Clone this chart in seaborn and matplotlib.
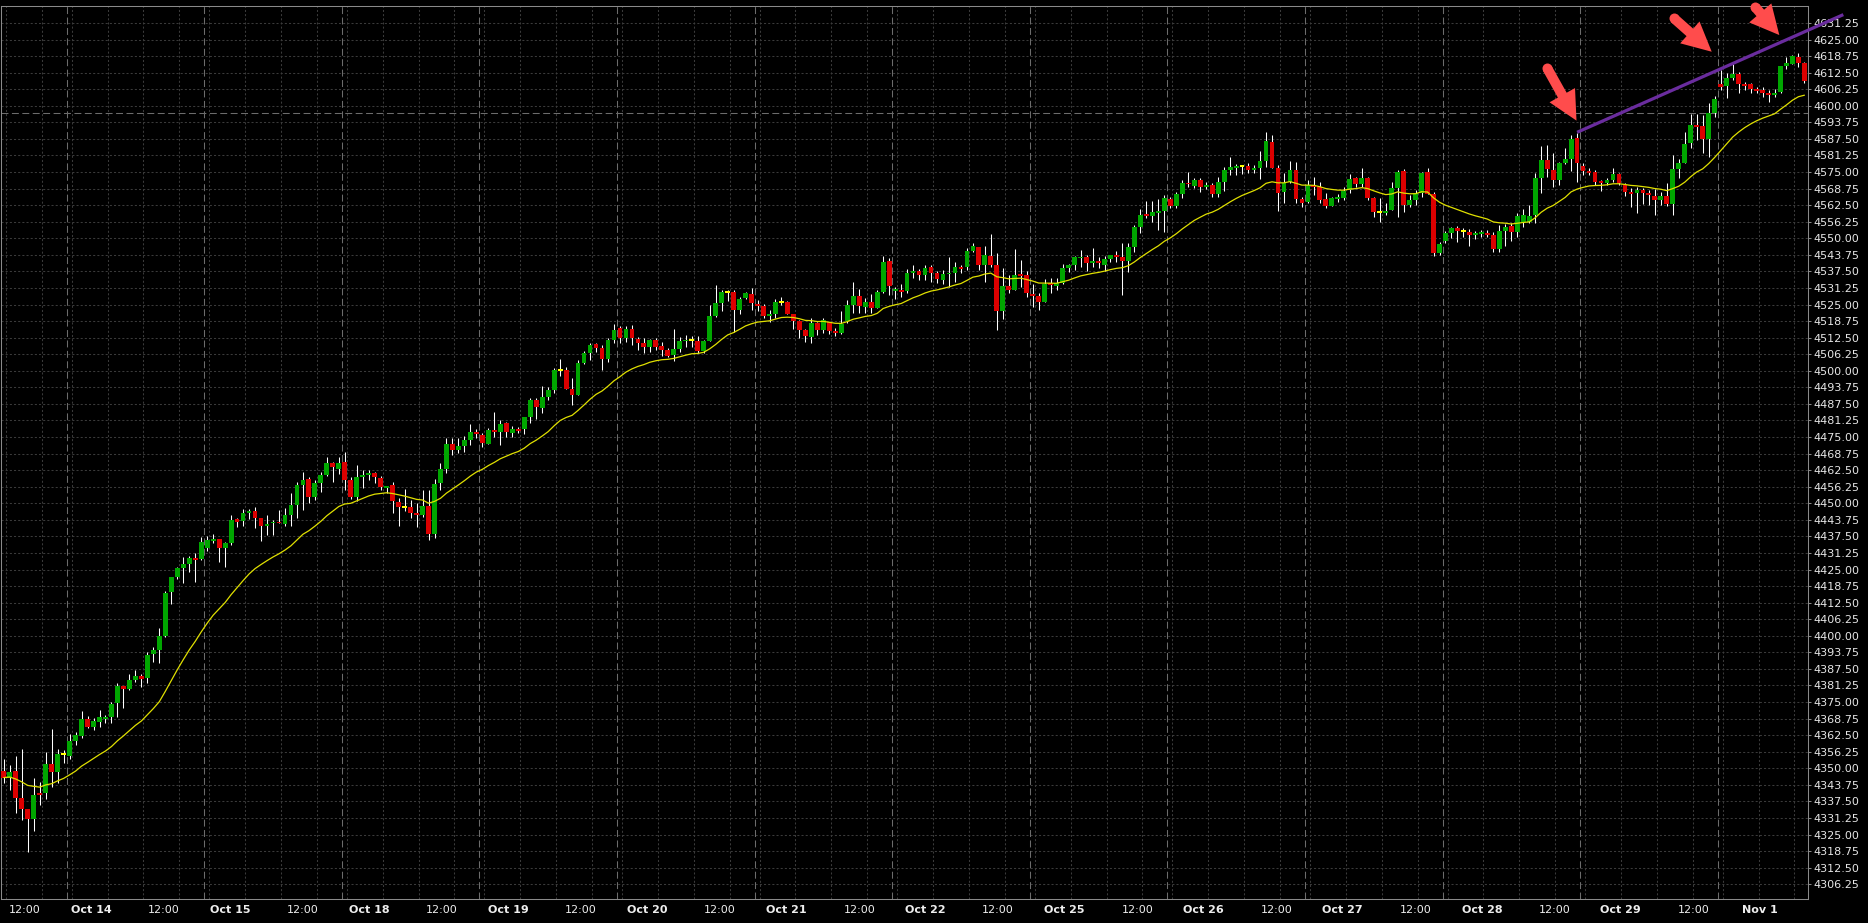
import numpy as np
import pandas as pd
import matplotlib
matplotlib.use("Agg")
import matplotlib.pyplot as plt
import seaborn as sns
from matplotlib.patches import FancyArrowPatch

# hourly candles (index 0 = first bar on the left)
opens = [
    4349.0, 4346.5, 4349.0, 4338.9, 4334.6, 4330.9, 4340.5, 4340.5, 4351.6, 4348.7,
    4355.0, 4354.8, 4360.3, 4362.3, 4368.6, 4365.7, 4367.6, 4368.7, 4369.2, 4374.8,
    4381.1, 4379.8, 4383.3, 4384.8, 4383.9, 4393.1, 4394.6, 4399.9, 4416.5, 4422.1,
    4425.6, 4427.2, 4429.4, 4429.1, 4433.2, 4435.9, 4436.4, 4433.2, 4435.0, 4443.9,
    4443.4, 4446.5, 4447.1, 4444.6, 4441.6, 4442.4, 4442.9, 4442.2, 4445.6, 4449.4,
    4456.9, 4459.3, 4452.5, 4457.8, 4460.7, 4465.3, 4463.1, 4465.6, 4458.8, 4452.5,
    4460.0, 4460.8, 4461.4, 4459.4, 4455.9, 4456.9, 4450.6, 4448.3, 4448.5, 4446.5,
    4445.6, 4449.0, 4438.5, 4457.8, 4462.9, 4472.4, 4470.1, 4471.6, 4473.9, 4476.8,
    4475.8, 4472.4, 4477.6, 4476.9, 4480.2, 4476.6, 4477.9, 4477.9, 4482.7, 4489.0,
    4485.8, 4490.2, 4492.8, 4500.0, 4500.3, 4493.1, 4490.9, 4502.8, 4506.6, 4510.1,
    4508.6, 4504.4, 4511.6, 4516.3, 4512.5, 4515.9, 4512.0, 4510.6, 4509.1, 4511.6,
    4509.4, 4507.9, 4506.0, 4508.2, 4511.1, 4511.4, 4511.2, 4507.6, 4511.2, 4520.7,
    4525.7, 4529.5, 4529.9, 4523.1, 4527.3, 4529.0, 4525.2, 4524.4, 4520.7, 4521.3,
    4525.7, 4525.8, 4521.4, 4518.8, 4515.4, 4512.9, 4517.9, 4515.4, 4518.5, 4515.2,
    4514.4, 4518.8, 4524.8, 4528.2, 4524.2, 4525.8, 4523.8, 4529.7, 4541.4, 4530.1,
    4530.5, 4530.2, 4537.0, 4537.7, 4536.2, 4539.2, 4537.0, 4534.3, 4536.4, 4537.0,
    4539.3, 4539.3, 4545.2, 4546.8, 4539.9, 4543.3, 4539.9, 4522.5, 4532.0, 4530.5,
    4536.5, 4536.2, 4529.1, 4528.2, 4526.1, 4533.0, 4532.0, 4533.0, 4538.9, 4539.9,
    4542.4, 4543.1, 4540.6, 4541.4, 4539.9, 4542.1, 4543.7, 4543.1, 4541.6, 4546.8,
    4554.4, 4559.2, 4558.4, 4559.7, 4560.4, 4564.8, 4562.3, 4566.7, 4571.0, 4569.8,
    4572.0, 4569.5, 4570.1, 4566.9, 4571.4, 4575.8, 4576.7, 4577.0, 4577.3, 4575.8,
    4576.7, 4579.2, 4586.2, 4576.4, 4567.5, 4571.4, 4575.8, 4564.8, 4563.8, 4570.1,
    4569.2, 4564.8, 4562.2, 4564.9, 4565.1, 4568.2, 4572.6, 4570.5, 4572.6, 4565.3,
    4559.7, 4559.7, 4560.7, 4568.9, 4575.4, 4562.6, 4564.5, 4567.0, 4574.9, 4566.6,
    4544.6, 4549.1, 4551.9, 4553.8, 4552.4, 4552.3, 4551.2, 4551.6, 4552.0, 4551.2,
    4545.9, 4552.6, 4554.6, 4552.5, 4556.3, 4556.3, 4558.8, 4572.9, 4579.5, 4575.8,
    4572.0, 4578.3, 4579.9, 4587.7, 4577.3, 4575.4, 4574.9, 4571.6, 4570.7, 4572.0,
    4574.3, 4570.1, 4567.6, 4567.2, 4568.2, 4567.0, 4566.1, 4564.5, 4566.1, 4563.0,
    4576.1, 4578.3, 4585.8, 4592.8, 4592.5, 4587.5, 4597.2, 4608.2, 4607.5, 4610.4,
    4612.0, 4608.2, 4608.2, 4606.3, 4606.0, 4604.7, 4604.1, 4605.3, 4615.1, 4615.8,
    4618.5, 4616.0,
]
highs = [
    4353.5, 4351.2, 4354.6, 4357.3, 4334.6, 4346.5, 4345.0, 4356.3, 4364.8, 4357.3,
    4356.9, 4362.9, 4363.7, 4371.6, 4369.7, 4369.1, 4372.0, 4370.1, 4375.1, 4382.1,
    4381.1, 4385.6, 4387.1, 4385.6, 4394.0, 4395.9, 4402.8, 4417.0, 4422.1, 4426.1,
    4429.9, 4430.1, 4431.1, 4437.4, 4437.7, 4438.4, 4436.4, 4435.5, 4445.6, 4444.3,
    4447.7, 4448.0, 4448.7, 4444.6, 4445.6, 4443.7, 4447.5, 4448.1, 4453.8, 4458.2,
    4461.9, 4460.0, 4458.8, 4461.9, 4467.6, 4465.7, 4467.6, 4469.5, 4460.0, 4464.4,
    4462.6, 4462.6, 4461.9, 4460.3, 4456.5, 4458.2, 4451.9, 4455.3, 4451.2, 4450.0,
    4455.0, 4455.0, 4459.0, 4465.1, 4474.5, 4474.5, 4474.5, 4475.5, 4479.9, 4477.9,
    4476.4, 4478.3, 4484.6, 4481.4, 4480.8, 4479.2, 4478.9, 4482.7, 4489.6, 4489.6,
    4494.1, 4493.8, 4500.9, 4504.3, 4501.5, 4497.2, 4504.1, 4507.6, 4510.6, 4510.6,
    4509.7, 4512.3, 4517.6, 4516.9, 4516.9, 4517.3, 4512.9, 4512.3, 4511.9, 4512.3,
    4511.0, 4508.5, 4515.8, 4512.9, 4513.5, 4513.1, 4513.1, 4511.6, 4524.8, 4532.4,
    4530.5, 4530.5, 4530.5, 4527.7, 4529.9, 4531.1, 4526.7, 4525.2, 4522.9, 4527.0,
    4527.7, 4526.5, 4521.4, 4519.2, 4515.6, 4519.8, 4518.5, 4519.8, 4518.5, 4516.0,
    4522.6, 4526.7, 4533.6, 4530.7, 4527.3, 4529.0, 4530.5, 4543.3, 4542.4, 4531.7,
    4532.8, 4538.3, 4539.9, 4538.3, 4539.9, 4539.9, 4537.7, 4538.0, 4543.1, 4541.2,
    4539.9, 4546.2, 4548.1, 4546.8, 4547.1, 4551.6, 4544.3, 4538.7, 4536.2, 4545.8,
    4541.8, 4537.7, 4532.8, 4529.5, 4534.5, 4534.9, 4534.9, 4540.3, 4540.3, 4543.3,
    4545.6, 4543.7, 4546.5, 4543.1, 4543.3, 4543.7, 4545.2, 4548.1, 4548.1, 4555.0,
    4560.9, 4564.2, 4564.2, 4564.7, 4566.3, 4565.5, 4567.6, 4572.0, 4575.1, 4572.6,
    4572.6, 4571.4, 4570.8, 4573.3, 4577.0, 4580.6, 4578.0, 4577.7, 4578.3, 4577.7,
    4582.9, 4590.0, 4589.0, 4577.7, 4574.8, 4579.2, 4578.9, 4565.7, 4572.0, 4573.0,
    4571.4, 4567.0, 4565.7, 4566.6, 4569.2, 4574.3, 4573.3, 4576.4, 4573.3, 4565.7,
    4565.1, 4563.2, 4571.4, 4575.8, 4576.2, 4566.3, 4568.2, 4575.2, 4576.4, 4567.6,
    4548.7, 4552.8, 4554.4, 4554.6, 4553.8, 4553.4, 4552.9, 4553.1, 4553.1, 4552.5,
    4555.0, 4555.4, 4555.6, 4559.4, 4560.9, 4562.6, 4574.8, 4584.8, 4585.2, 4582.1,
    4578.9, 4583.9, 4589.0, 4589.6, 4578.3, 4576.4, 4575.8, 4572.0, 4572.6, 4576.4,
    4574.8, 4570.7, 4568.9, 4569.5, 4569.1, 4568.2, 4568.5, 4567.6, 4570.7, 4581.4,
    4579.8, 4590.3, 4596.9, 4596.9, 4596.5, 4601.2, 4603.7, 4613.5, 4612.3, 4615.6,
    4612.9, 4609.1, 4608.7, 4607.0, 4607.0, 4606.0, 4606.3, 4615.0, 4618.6, 4619.2,
    4619.8, 4616.7,
]
lows = [
    4344.3, 4342.0, 4333.0, 4330.5, 4318.5, 4326.5, 4336.1, 4338.6, 4343.1, 4344.6,
    4352.1, 4353.5, 4358.8, 4361.5, 4365.1, 4364.5, 4365.7, 4367.2, 4367.2, 4369.5,
    4372.9, 4379.6, 4382.7, 4380.8, 4382.3, 4390.2, 4389.9, 4399.7, 4411.9, 4421.3,
    4419.8, 4424.2, 4420.4, 4428.6, 4432.1, 4434.9, 4427.9, 4426.1, 4434.3, 4441.2,
    4441.6, 4443.9, 4440.5, 4435.9, 4438.0, 4438.2, 4442.4, 4441.6, 4441.6, 4444.6,
    4447.5, 4450.0, 4451.2, 4454.4, 4460.3, 4458.2, 4461.0, 4455.0, 4451.5, 4451.0,
    4455.6, 4458.8, 4457.5, 4455.0, 4454.0, 4446.2, 4441.4, 4447.2, 4444.3, 4440.9,
    4445.0, 4436.0, 4437.0, 4455.0, 4461.3, 4468.2, 4468.8, 4469.5, 4472.0, 4474.5,
    4471.4, 4472.2, 4475.1, 4472.0, 4475.1, 4475.1, 4476.4, 4476.1, 4480.4, 4481.7,
    4484.2, 4489.0, 4491.7, 4498.0, 4493.3, 4487.1, 4490.9, 4502.6, 4504.1, 4507.2,
    4500.3, 4503.4, 4510.6, 4510.6, 4511.0, 4509.7, 4507.9, 4506.9, 4507.2, 4507.9,
    4505.6, 4505.3, 4503.8, 4507.2, 4509.1, 4509.1, 4506.9, 4506.9, 4511.2, 4520.4,
    4522.7, 4526.5, 4514.8, 4521.3, 4527.0, 4523.0, 4522.7, 4519.8, 4518.5, 4519.8,
    4524.8, 4521.4, 4515.8, 4512.5, 4511.0, 4510.4, 4513.5, 4514.4, 4513.9, 4513.3,
    4513.9, 4517.9, 4521.7, 4521.7, 4521.7, 4521.7, 4523.6, 4529.2, 4528.6, 4527.1,
    4527.7, 4529.5, 4534.9, 4534.3, 4534.3, 4533.6, 4533.0, 4532.8, 4531.8, 4533.6,
    4536.8, 4538.0, 4544.9, 4538.0, 4533.6, 4539.3, 4515.5, 4519.5, 4529.5, 4530.5,
    4531.8, 4528.0, 4524.2, 4522.9, 4526.1, 4529.5, 4530.5, 4532.8, 4537.4, 4538.0,
    4539.0, 4537.8, 4539.3, 4538.7, 4537.8, 4541.2, 4541.2, 4528.6, 4537.4, 4544.9,
    4552.1, 4557.5, 4556.3, 4553.1, 4552.5, 4561.3, 4561.3, 4565.1, 4569.5, 4568.9,
    4567.6, 4568.6, 4565.7, 4565.7, 4568.0, 4573.9, 4573.9, 4574.3, 4574.8, 4574.8,
    4572.4, 4577.0, 4576.4, 4560.4, 4563.2, 4570.8, 4563.2, 4561.9, 4563.2, 4566.3,
    4563.2, 4561.3, 4562.2, 4563.8, 4564.5, 4567.0, 4569.2, 4569.2, 4564.5, 4557.9,
    4556.3, 4558.8, 4560.7, 4557.9, 4560.1, 4561.9, 4562.6, 4565.7, 4566.7, 4543.3,
    4543.7, 4548.1, 4550.0, 4548.7, 4550.6, 4547.2, 4549.6, 4550.6, 4550.6, 4544.9,
    4544.9, 4547.1, 4549.1, 4550.4, 4554.4, 4555.9, 4555.9, 4567.0, 4573.3, 4569.5,
    4570.1, 4578.0, 4575.5, 4571.4, 4573.9, 4573.9, 4570.1, 4568.0, 4570.1, 4571.4,
    4570.1, 4566.0, 4561.7, 4559.4, 4563.0, 4562.6, 4558.8, 4562.6, 4562.2, 4558.8,
    4572.6, 4578.3, 4584.0, 4587.1, 4582.1, 4580.8, 4595.9, 4606.0, 4602.8, 4609.7,
    4604.7, 4606.0, 4604.7, 4604.7, 4603.5, 4601.3, 4603.5, 4604.7, 4613.9, 4615.8,
    4614.8, 4608.7,
]
closes = [
    4346.5, 4348.6, 4338.9, 4334.6, 4330.9, 4339.9, 4340.0, 4351.6, 4348.7, 4355.4,
    4355.0, 4360.3, 4362.4, 4368.6, 4365.7, 4367.8, 4369.2, 4369.2, 4374.2, 4381.1,
    4379.8, 4383.3, 4384.8, 4383.6, 4392.7, 4394.6, 4399.9, 4416.0, 4422.1, 4425.6,
    4427.2, 4429.4, 4428.7, 4435.3, 4436.2, 4436.4, 4433.2, 4435.0, 4443.7, 4443.1,
    4446.2, 4447.1, 4444.6, 4441.6, 4442.2, 4442.9, 4442.4, 4445.6, 4449.4, 4456.9,
    4458.8, 4452.5, 4457.5, 4460.7, 4465.3, 4463.6, 4465.3, 4458.8, 4452.5, 4459.8,
    4460.7, 4461.4, 4459.8, 4456.3, 4456.5, 4450.9, 4448.5, 4448.3, 4446.2, 4445.6,
    4449.0, 4438.5, 4457.3, 4462.9, 4472.4, 4470.1, 4471.6, 4473.9, 4476.8, 4476.1,
    4472.6, 4477.6, 4476.9, 4479.9, 4476.9, 4478.0, 4477.1, 4482.7, 4489.0, 4486.2,
    4490.2, 4492.8, 4500.3, 4500.0, 4493.3, 4490.9, 4502.8, 4506.6, 4509.7, 4508.6,
    4504.4, 4511.6, 4515.4, 4512.5, 4515.9, 4512.3, 4510.6, 4508.9, 4511.6, 4509.1,
    4507.9, 4505.7, 4508.2, 4511.2, 4511.5, 4511.4, 4507.6, 4511.2, 4520.7, 4525.7,
    4529.9, 4529.5, 4523.1, 4527.1, 4529.2, 4525.5, 4524.4, 4520.7, 4521.3, 4525.8,
    4525.7, 4521.4, 4518.8, 4515.4, 4513.1, 4517.9, 4515.4, 4519.2, 4515.2, 4514.2,
    4517.7, 4524.8, 4528.2, 4524.6, 4525.8, 4523.8, 4529.7, 4540.9, 4532.0, 4530.5,
    4529.9, 4537.0, 4537.7, 4536.2, 4538.7, 4537.0, 4534.6, 4536.5, 4537.0, 4539.1,
    4538.4, 4545.2, 4547.1, 4539.9, 4543.7, 4539.9, 4522.5, 4532.0, 4530.5, 4536.2,
    4535.9, 4529.5, 4528.4, 4526.1, 4532.8, 4532.5, 4533.0, 4538.9, 4539.9, 4543.1,
    4543.1, 4540.8, 4541.4, 4540.5, 4542.2, 4543.7, 4543.1, 4541.6, 4546.8, 4554.4,
    4558.8, 4558.4, 4560.1, 4560.4, 4565.1, 4562.3, 4566.7, 4570.7, 4570.4, 4572.0,
    4569.5, 4570.1, 4566.9, 4571.1, 4575.8, 4577.0, 4577.3, 4577.0, 4575.8, 4576.7,
    4579.2, 4586.7, 4576.7, 4567.2, 4571.0, 4575.8, 4564.8, 4563.4, 4570.1, 4569.2,
    4564.5, 4562.2, 4565.3, 4565.7, 4568.0, 4572.4, 4570.5, 4572.6, 4565.3, 4560.0,
    4559.7, 4560.3, 4568.9, 4575.2, 4562.6, 4564.5, 4567.0, 4574.5, 4566.7, 4544.3,
    4547.7, 4551.9, 4553.8, 4552.8, 4552.4, 4551.2, 4551.9, 4552.3, 4551.2, 4545.9,
    4552.8, 4554.3, 4552.5, 4558.4, 4558.7, 4558.4, 4572.6, 4579.5, 4576.0, 4572.0,
    4578.3, 4579.9, 4587.5, 4578.5, 4575.4, 4574.8, 4571.4, 4570.7, 4572.0, 4574.3,
    4570.7, 4567.6, 4566.7, 4568.2, 4567.0, 4566.3, 4564.5, 4566.1, 4563.0, 4576.1,
    4578.3, 4585.6, 4592.8, 4591.9, 4587.5, 4597.2, 4602.6, 4607.2, 4610.4, 4612.0,
    4608.2, 4607.5, 4606.3, 4605.7, 4604.7, 4604.1, 4604.7, 4615.0, 4616.0, 4618.9,
    4616.0, 4609.5,
]

# bottom axis labels (bar index where each label sits)
time_ticks = [3.5, 14.6, 26.7, 37.8, 49.9, 61.1, 73.2, 84.3, 96.5, 107.6, 119.7, 130.8, 143.0,
              154.1, 166.2, 177.3, 189.5, 200.6, 212.7, 223.8, 236.0, 247.1, 259.2, 270.3,
              282.5, 293.5]
time_labels = ['12:00', 'Oct 14', '12:00', 'Oct 15', '12:00', 'Oct 18', '12:00', 'Oct 19',
               '12:00', 'Oct 20', '12:00', 'Oct 21', '12:00', 'Oct 22', '12:00', 'Oct 25',
               '12:00', 'Oct 26', '12:00', 'Oct 27', '12:00', 'Oct 28', '12:00', 'Oct 29',
               '12:00', 'Nov 1']

# drawn annotations
ref_level = 4597.25
trend_x = [263, 307.5]
trend_y = [4590.0, 4634.4]
arrow_tails = [(258.0, 4614.2), (279.2, 4633.0), (292.8, 4637.2)]
arrow_tips = [(262.9, 4594.4), (285.5, 4620.4), (296.8, 4626.7)]

sns.set_style("dark")
plt.rcParams['font.family'] = ['DejaVu Sans']
plt.rcParams['lines.scale_dashes'] = False

df = pd.DataFrame({'open': opens, 'high': highs, 'low': lows, 'close': closes})
df['bar'] = np.arange(len(df))
# 20-period exponential moving average of the closes
df['ma'] = df['close'].ewm(span=20, adjust=False).mean()

up = df['close'] > df['open']
down = df['close'] < df['open']
colors = np.where(up, '#00a600', np.where(down, '#dc0000', '#ffff00'))
body_lo = df[['open', 'close']].min(axis=1)
body_h = (df['close'] - df['open']).abs().clip(lower=0.6)

fig = plt.figure(figsize=(18.68, 9.23), dpi=100, facecolor='black')
ax = fig.add_axes([0.00027, 0.026, 0.96762, 0.9675])
ax.set_facecolor('black')

# grid
yticks = np.arange(4306.25, 4631.3, 6.25)
for yv in yticks:
    ax.axhline(yv, color='#3a3a3a', lw=0.75, ls=(0, (1.5, 1.5)), zorder=0)
seps = np.arange(10.5, 302, 23)
for s in np.concatenate([[seps[0] - 23], seps]):
    for k in range(4):
        xv = s + 0.84 + 6 * k
        if -0.5 < xv < 301.6:
            ax.axvline(xv, color='#3a3a3a', lw=0.75, ls=(0, (1.5, 1.5)), zorder=0)
for s in seps:
    ax.axvline(s, color='#6c6c6c', lw=0.75, ls=(0, (5, 2.5)), zorder=0.5)
ax.axhline(ref_level, color='#6c6c6c', lw=0.75, ls=(0, (5, 2.5)), zorder=0.5)

# candles
ax.vlines(df['bar'], df['low'], df['high'], color='white', lw=0.75, zorder=2)
ax.bar(df['bar'], body_h, bottom=body_lo, width=0.8, color=colors, linewidth=0, zorder=3)

# moving average
sns.lineplot(x=df['bar'], y=df['ma'], ax=ax, color='#e0e000', lw=0.9, zorder=4)

# trend line and arrows
ax.plot(trend_x, trend_y, color='#6a2c9e', lw=2.3, solid_capstyle='butt', clip_on=False, zorder=6)
for tail, tip in zip(arrow_tails, arrow_tips):
    arr = FancyArrowPatch(posA=tail, posB=tip, shrinkA=0, shrinkB=0, mutation_scale=1,
                          arrowstyle='simple,head_length=21,head_width=21,tail_width=7.2',
                          color='#ff4c4c', lw=0, clip_on=False, zorder=7)
    ax.add_patch(arr)
    ax.plot([tail[0]], [tail[1]], 'o', ms=7.2, mew=0, color='#ff4c4c', clip_on=False, zorder=7)

ax.set_xlim(-0.55, 301.6)
ax.set_ylim(4300.68, 4637.66)
ax.set_xlabel('')
ax.set_ylabel('')

ax.yaxis.tick_right()
ax.set_yticks(yticks)
ax.set_yticklabels([f'{v:.2f}' for v in yticks])
ax.tick_params(axis='y', right=True, left=False, length=2.2, width=0.75, pad=1.6,
               color='#8a8a8a', labelcolor='#e6e6e6', labelsize=8)
ax.set_xticks(time_ticks)
ax.set_xticklabels(time_labels)
ax.tick_params(axis='x', bottom=True, length=0, pad=4, labelcolor='#eeeeee', labelsize=8)
for lbl in ax.get_xticklabels():
    if lbl.get_text() != '12:00':
        lbl.set_fontweight('bold')
ax.grid(False)

for sp in ax.spines.values():
    sp.set_visible(True)
    sp.set_color('#8a8a8a')
    sp.set_linewidth(0.75)

fig.savefig('out.png', dpi=100, facecolor='black')
